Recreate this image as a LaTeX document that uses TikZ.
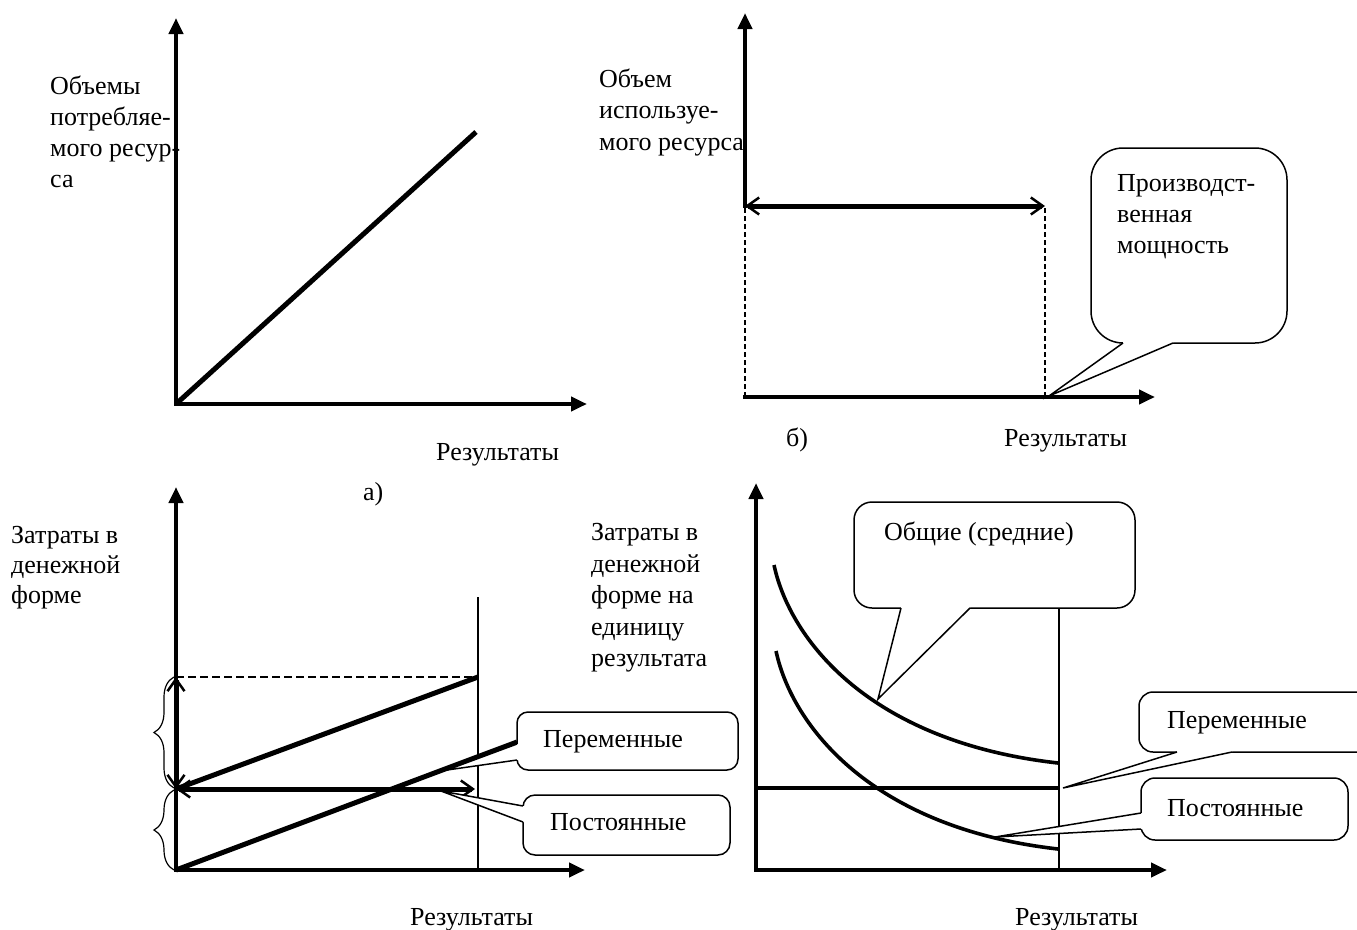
\documentclass[tikz,border=0pt]{standalone}
\usepackage{fontspec}
\setmainfont{Liberation Serif}
\usetikzlibrary{arrows.meta,decorations.pathreplacing}
\begin{document}
\begin{tikzpicture}[x=1pt,y=-1pt,
  lbl/.style={anchor=base west,inner sep=0pt,font=\fontsize{26}{31}\selectfont},
  axisarrow/.style={line width=4pt,line cap=rect,-{Triangle[length=16pt,width=14pt]}},
  heavy/.style={line width=5pt},
  hypcurve/.style={line width=3.6pt},
  guide/.style={line width=1.3pt},
  fine dash/.style={line width=1.2pt,dash pattern=on 5pt off 3pt},
  wide dash/.style={line width=1.6pt,dash pattern=on 8pt off 4pt},
  twoway/.style={line width=5pt,>={Straight Barb[length=12pt,width=17pt,line width=2.5pt]},<->},
  bubble/.style={draw,line width=1.5pt,fill=white},
  tailline/.style={line width=1.5pt,line join=miter},
  curly/.style={line width=1.2pt,decorate,decoration={brace,amplitude=20pt}},
]
\useasboundingbox (0,0) rectangle (1357,929);

% ---------- panel a: resource consumed grows with output ----------
\coordinate (aO) at (176,404);
\coordinate (aYtop) at (176,18);
\coordinate (aXend) at (587,404);
\coordinate (aLine) at (476,132);
\draw[axisarrow] (aO) -- (aYtop);
\draw[axisarrow] (aO) -- (aXend);
\draw[heavy] (aO) -- (aLine);
\node[lbl] (a1) at (50,94) {Объемы};
\node[lbl] (a2) at (50,125) {потребляе-};
\node[lbl] (a3) at (50,156) {мого ресур-};
\node[lbl] (a4) at (50,187) {са};
\node[lbl] (aRes) at (436,460) {Результаты};
\node[lbl] (aTag) at (363,500) {а)};

% ---------- panel b: fixed capacity ----------
\coordinate (bO) at (745,397);
\coordinate (bYtop) at (745,13);
\coordinate (bXend) at (1155,397);
\coordinate (bCapL) at (745,206);
\coordinate (bCapR) at (1045,206);
\coordinate (bCapB) at (1045,397);
\draw[fine dash] (bO) -- (bCapL);
\draw[fine dash] (bCapB) -- (bCapR);
\draw[axisarrow] (bCapL) -- (bYtop);
\draw[axisarrow] (bO) -- (bXend);
\draw[twoway] (bCapL) -- (bCapR);
\node[lbl] (b1) at (599,87) {Объем};
\node[lbl] (b2) at (599,118) {используе-};
\node[lbl] (b3) at (599,150) {мого ресурса};
\node[lbl] (bTag) at (786,446) {б)};
\node[lbl] (bRes) at (1004,446) {Результаты};
% callout: capacity
\coordinate (bTip) at (1049,396);
\draw[bubble,rounded corners=32pt] (1091,148) rectangle (1287,343);
\fill[white] (bTip) -- (1123,343) -- (1123,339) -- (1173,339) -- (1173,343) -- cycle;
\draw[tailline] (1123,343) -- (bTip) -- (1173,343);
\node[lbl] (bc1) at (1117,191) {Производст-};
\node[lbl] (bc2) at (1117,222) {венная};
\node[lbl] (bc3) at (1117,253) {мощность};

% ---------- panel c: total costs in money ----------
\coordinate (cO) at (176,870);
\coordinate (cYtop) at (176,487);
\coordinate (cXend) at (585,870);
\coordinate (cFix) at (176,789);
\coordinate (cTop) at (176,677);
\coordinate (cEndTop) at (478,677);
\coordinate (cEndFix) at (475,789);
\coordinate (cMarkT) at (478,597);
\coordinate (cMarkB) at (478,868);
\coordinate (cVar) at (517,742);
\draw[guide] (cMarkT) -- (cMarkB);
\draw[wide dash] (cTop) -- (cEndTop);
\draw[axisarrow] (cO) -- (cYtop);
\draw[axisarrow] (cO) -- (cXend);
\draw[heavy] (cFix) -- (cEndTop);
\draw[heavy] (cO) -- (cVar);
\draw[twoway] (cFix) -- (cEndFix);
\draw[twoway] (cFix) -- (cTop);
\draw[curly] (174,870) -- (174,790);
\draw[curly] (174,788) -- (174,677);
\node[lbl] (c1) at (11,543) {Затраты в};
\node[lbl] (c2) at (11,573) {денежной};
\node[lbl] (c3) at (11,603) {форме};
\node[lbl] (cRes) at (410,925) {Результаты};
% callout: variable
\coordinate (cTipV) at (447,770);
\draw[bubble,rounded corners=11pt] (517,712) rectangle (738,770);
\fill[white] (cTipV) -- (517,744) -- (521,744) -- (521,760) -- (517,760) -- cycle;
\draw[tailline] (517,744) -- (cTipV) -- (517,760);
\node[lbl] (cV) at (543,747) {Переменные};
% callout: fixed
\coordinate (cTipF) at (441,791);
\draw[bubble,rounded corners=12pt] (523,795) rectangle (730,855);
\fill[white] (cTipF) -- (523,806) -- (527,806) -- (527,822) -- (523,822) -- cycle;
\draw[tailline] (523,806) -- (cTipF) -- (523,822);
\node[lbl] (cF) at (550,830) {Постоянные};

% ---------- panel d: costs per unit of output ----------
\coordinate (dO) at (756,870);
\coordinate (dYtop) at (756,483);
\coordinate (dXend) at (1167,870);
\coordinate (dFixL) at (756,788);
\coordinate (dFixR) at (1058,788);
\coordinate (dMarkT) at (1059,608);
\coordinate (dMarkB) at (1059,868);
\coordinate (dUpS) at (774,565);
\coordinate (dUpE) at (1058,763);
\coordinate (dLoS) at (776,651);
\coordinate (dLoE) at (1058,849);
\draw[guide] (dMarkT) -- (dMarkB);
\draw[axisarrow] (dO) -- (dYtop);
\draw[axisarrow] (dO) -- (dXend);
\draw[line width=4.5pt] (dFixL) -- (dFixR);
\draw[hypcurve] (dUpS) .. controls (790,640) and (870,742) .. (dUpE);
\draw[hypcurve] (dLoS) .. controls (792,726) and (872,828) .. (dLoE);
\node[lbl] (d1) at (591,540) {Затраты в};
\node[lbl] (d2) at (591,572) {денежной};
\node[lbl] (d3) at (591,603) {форме на};
\node[lbl] (d4) at (591,635) {единицу};
\node[lbl] (d5) at (591,666) {результата};
\node[lbl] (dRes) at (1015,925) {Результаты};
% callout: total (average)
\coordinate (dTipT) at (878,699);
\draw[bubble,rounded corners=18pt] (854,502) rectangle (1135,608);
\fill[white] (dTipT) -- (901,608) -- (901,604) -- (970,604) -- (970,608) -- cycle;
\draw[tailline] (901,608) -- (dTipT) -- (970,608);
\node[lbl] (dT) at (884,540) {Общие (средние)};
% callout: variable
\coordinate (dTipV) at (1063,788);
\draw[bubble,rounded corners=14pt] (1139,692) rectangle (1375,752);
\fill[white] (dTipV) -- (1177,752) -- (1177,748) -- (1232,748) -- (1232,752) -- cycle;
\draw[tailline] (1177,752) -- (dTipV) -- (1232,752);
\node[lbl] (dV) at (1167,728) {Переменные};
% callout: fixed
\coordinate (dTipF) at (995,837);
\draw[bubble,rounded corners=14pt] (1141,778) rectangle (1348,840);
\fill[white] (dTipF) -- (1141,813) -- (1145,813) -- (1145,829) -- (1141,829) -- cycle;
\draw[tailline] (1141,813) -- (dTipF) -- (1141,829);
\node[lbl] (dF) at (1167,816) {Постоянные};
\end{tikzpicture}
\end{document}
